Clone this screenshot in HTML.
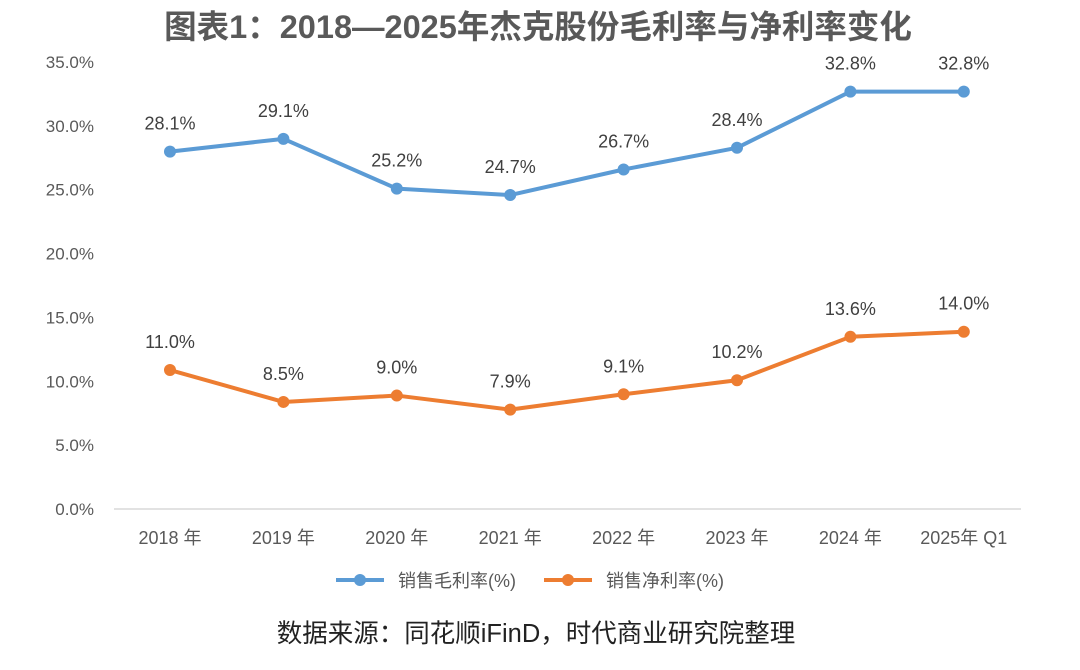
<!DOCTYPE html>
<html><head><meta charset="utf-8"><style>
body{margin:0;background:#fff;width:1080px;height:670px;overflow:hidden}
svg{display:block;font-family:"Liberation Sans","Noto Sans CJK SC",sans-serif}
</style></head><body>
<svg id="chart" width="1080" height="670">
<text x="538" y="38" text-anchor="middle" font-size="32.5" font-weight="bold" fill="#595959">图表1：2018—2025年杰克股份毛利率与净利率变化</text>
<g id="yaxis"></g>
<g id="xaxis"></g>
<g id="series"></g>
<g>
<g>
<line x1="336" y1="580" x2="384" y2="580" stroke="#5b9bd5" stroke-width="4"/><circle cx="360" cy="580" r="6" fill="#5b9bd5"/>
<text x="398" y="587" font-size="18" fill="#595959">销售毛利率(%)</text></g>
<g>
<line x1="544" y1="580" x2="592" y2="580" stroke="#ed7d31" stroke-width="4"/><circle cx="568" cy="580" r="6" fill="#ed7d31"/>
<text x="606" y="587" font-size="18" fill="#595959">销售净利率(%)</text></g>
</g>
<text x="536" y="642" text-anchor="middle" font-size="25.5" fill="#222">数据来源：同花顺iFinD，时代商业研究院整理</text>
</svg>
<script>
const categories=["2018 年","2019 年","2020 年","2021 年","2022 年","2023 年","2024 年","2025年 Q1"];
const grossMargin=[28.1,29.1,25.2,24.7,26.7,28.4,32.8,32.8];
const netMargin=[11.0,8.5,9.0,7.9,9.1,10.2,13.6,14.0];
const yTicks=[0,5,10,15,20,25,30,35];
const NS="http://www.w3.org/2000/svg";
const y0=509,y35=62,xStart=170,xStep=113.4;
const y=v=>y0-(v/35)*(y0-y35)+1.5;
const x=i=>xStart+i*xStep;
function mk(t,a,p){const e=document.createElementNS(NS,t);for(const k in a)e.setAttribute(k,a[k]);p.appendChild(e);return e;}
const ya=document.getElementById('yaxis'),xa=document.getElementById('xaxis'),se=document.getElementById('series');
yTicks.forEach(v=>{const t=mk('text',{x:94,y:y0-(v/35)*(y0-y35)+6,'text-anchor':'end','font-size':17,fill:'#595959'},ya);t.textContent=v.toFixed(1)+'%';

});
const ax=mk('line',{x1:114,x2:1021,y1:y0,y2:y0,stroke:'#d9d9d9','stroke-width':1.5},xa);


categories.forEach((c,i)=>{const t=mk('text',{x:x(i),y:544,'text-anchor':'middle','font-size':18,fill:'#595959'},xa);t.textContent=c;

});
function draw(vals,color,name){
 const g=mk('g',{},se);
 
 
 const p=mk('polyline',{points:vals.map((v,i)=>x(i)+','+y(v)).join(' '),fill:'none',stroke:color,'stroke-width':4,'stroke-linejoin':'round'},g);
 
 
 vals.forEach((v,i)=>{const c=mk('circle',{cx:x(i),cy:y(v),r:6,fill:color},g);
  
  
  const t=mk('text',{x:x(i),y:y(v)-22,'text-anchor':'middle','font-size':18,fill:'#404040'},g);t.textContent=v.toFixed(1)+'%';
  
  });
}
draw(grossMargin,'#5b9bd5','gross-margin');
draw(netMargin,'#ed7d31','net-margin');
</script>
</body></html>
